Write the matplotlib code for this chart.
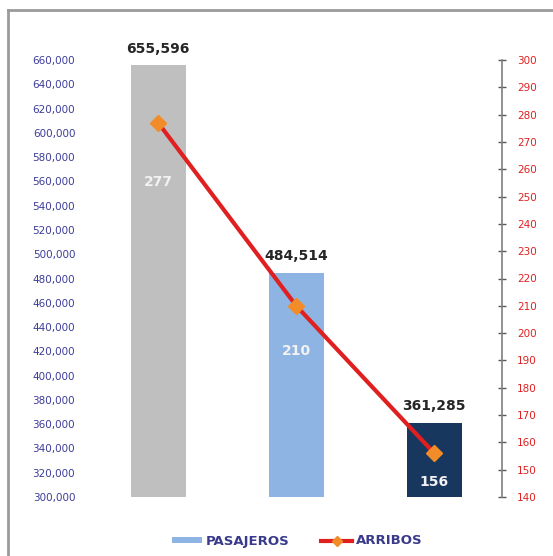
import matplotlib
matplotlib.use("Agg")
import matplotlib.pyplot as plt
from matplotlib.lines import Line2D
from matplotlib.patches import Patch
from matplotlib.ticker import FuncFormatter

categories = ["A", "B", "C"]
pasajeros = [655596, 484514, 361285]
arribos = [277, 210, 156]
bar_colors = ["#BFBFBF", "#8DB4E2", "#17375E"]
left_ticks = list(range(300000, 660001, 20000))
right_ticks = list(range(140, 301, 10))
inner_offsets_px = [-59, -45, -29]

fig = plt.figure(figsize=(5.53, 5.56), dpi=100)
fig.patch.set_facecolor("white")
ax = fig.add_axes([85/553, 1-497/556, (502-85)/553, (497-60)/556])
x = list(range(len(categories)))
ax.bar(x, pasajeros, width=0.4, color=bar_colors, zorder=2)
ax.set_ylim(300000, 660000)
ax.set_xlim(-0.53, 2.49)
ax.set_yticks(left_ticks)
ax.yaxis.set_major_formatter(FuncFormatter(lambda v, p: f"{int(v):,}"))
ax.tick_params(axis="y", length=0, pad=7, labelsize=7.5, labelcolor="#3C3C9A")
ax.tick_params(axis="x", length=0, labelbottom=False)
for s in ax.spines.values():
    s.set_visible(False)

for xi, v in zip(x, pasajeros):
    ax.annotate(f"{v:,}", (xi, v), xytext=(0, 12), textcoords="offset points",
                ha="center", va="center", fontsize=10, fontweight="bold", color="#262626")

ax2 = ax.twinx()
ax2.set_ylim(140, 300)
ax2.set_yticks(right_ticks)
ax2.plot(x, arribos, color="#E02020", lw=3, marker="D", markersize=8,
         markerfacecolor="#F28C28", markeredgecolor="#F28C28", zorder=3, solid_capstyle="round")
for s in ["top", "left", "bottom"]:
    ax2.spines[s].set_visible(False)
ax2.spines["right"].set_color("#7F7F7F")
ax2.spines["right"].set_linewidth(1.2)
ax2.tick_params(axis="y", direction="inout", length=6, width=1, color="#595959",
                pad=8, labelsize=7.5, labelcolor="#E02020")
for xi, v, off in zip(x, arribos, inner_offsets_px):
    ax2.annotate(f"{v}", (xi, v), xytext=(0, off*0.72), textcoords="offset points",
                 ha="center", va="center", fontsize=10, fontweight="bold", color="#F2F2F2")

handles = [Patch(facecolor="#8DB4E2", edgecolor="none"),
           Line2D([], [], color="#E02020", lw=3, marker="D", markersize=5,
                  markerfacecolor="#F28C28", markeredgecolor="#F28C28")]
leg = fig.legend(handles, ["PASAJEROS", "ARRIBOS"], loc="center", bbox_to_anchor=(297/553, 1-541/556),
                 ncol=2, frameon=False, handlelength=2.3, handleheight=0.35, handletextpad=0.3,
                 columnspacing=2.4, prop={"weight": "bold", "size": 9.5})
for t in leg.get_texts():
    t.set_color("#3A3A8C")

fig.add_artist(Line2D([8/553, 8/553], [0, 1-10/556], transform=fig.transFigure, color="#9A9A9A", lw=2))
fig.add_artist(Line2D([8/553, 1], [1-10/556, 1-10/556], transform=fig.transFigure, color="#9A9A9A", lw=2))

fig.savefig("out.png", dpi=100, facecolor="white")
